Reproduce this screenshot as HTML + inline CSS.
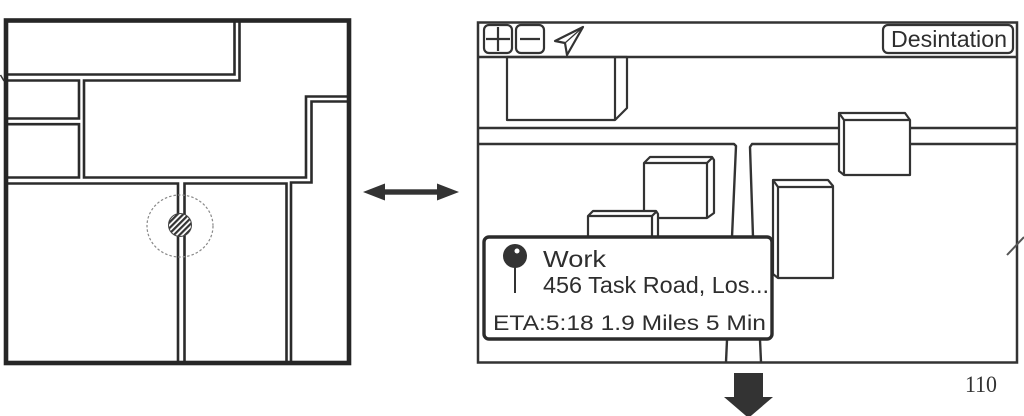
<!DOCTYPE html>
<html><head><meta charset="utf-8"><style>
html,body{margin:0;padding:0;background:#fff;}
svg{display:block;}
text{font-family:"Liberation Sans",Arial,sans-serif;fill:#2e2e2e;}
</style></head><body>
<svg width="1024" height="416" viewBox="0 0 1024 416" xmlns="http://www.w3.org/2000/svg">
<defs>
<pattern id="hatch" width="4" height="4" patternUnits="userSpaceOnUse" patternTransform="rotate(45)">
<rect width="4" height="4" fill="#fff"/><rect width="2.2" height="4" fill="#333"/>
</pattern>
</defs>
<rect width="1024" height="416" fill="#fff"/>

<!-- LEFT MAP -->
<g fill="none" stroke="#2b2b2b" stroke-width="2.6" stroke-linejoin="miter">
  <!-- block A -->
  <polyline points="234.5,20 234.5,74.5 6,74.5"/>
  <!-- C1 -->
  <polyline points="6,80.5 79,80.5 79,118.5 6,118.5"/>
  <!-- C2 -->
  <polyline points="6,124.2 79,124.2 79,177.5 6,177.5"/>
  <!-- B + D -->
  <polyline points="239.5,20 239.5,80.5 84,80.5 84,177.5 306,177.5 306,96.5 349,96.5"/>
  <!-- E -->
  <polyline points="6,183.5 178,183.5 178,363"/>
  <!-- F -->
  <polyline points="184.5,363 184.5,183.5 286.5,183.5 286.5,363"/>
  <!-- G -->
  <polyline points="291,363 291,182.5 311.5,182.5 311.5,101.5 349,101.5"/>
</g>
<rect x="6" y="20.5" width="343" height="342.5" fill="none" stroke="#262626" stroke-width="4.6"/>
<line x1="0.5" y1="75" x2="4" y2="81" stroke="#333" stroke-width="1.5"/>
<!-- location marker -->
<ellipse cx="180" cy="226" rx="33" ry="31" fill="none" stroke="#888" stroke-width="1.2" stroke-dasharray="2.5,2"/>
<circle cx="180" cy="225" r="11.5" fill="url(#hatch)" stroke="#444" stroke-width="1"/>

<!-- MIDDLE DOUBLE ARROW -->
<g fill="#333">
  <rect x="382" y="189.3" width="57" height="5.4"/>
  <polygon points="363,192 385,183.5 385,200.5"/>
  <polygon points="459,192 437,183.5 437,200.5"/>
</g>

<!-- RIGHT PANEL -->
<g fill="none" stroke="#333" stroke-width="2.4" stroke-linejoin="round">
  <!-- road lines -->
  <line x1="478" y1="128" x2="1017" y2="128"/>
  <polyline points="478,144 734,144 736,146 732,237"/>
  <polyline points="753,237 750,147 752,144 1017,144"/>
  <line x1="727" y1="340" x2="726" y2="362"/>
  <line x1="760" y1="340" x2="761" y2="362"/>
</g>

<!-- buildings -->
<g fill="#fff" stroke="#333" stroke-width="2.2" stroke-linejoin="round">
  <!-- building 1 top-left -->
  <polygon points="507,57 627,57 627,108 615,120 507,120"/>
  <polyline points="615,57 615,120" fill="none"/>
  <!-- building right-mid -->
  <polygon points="839,113 905,113 910,120 910,175 844,175 839,171"/>
  <polyline points="839,113 844,120 910,120" fill="none"/>
  <line x1="844" y1="120" x2="844" y2="175"/>
  <!-- building 2 center -->
  <polygon points="644,163 650,157 712,157 714,160 714,213 707,218 644,218"/>
  <polyline points="644,163 707,163 707,218" fill="none"/>
  <line x1="707" y1="163" x2="713" y2="157"/>
  <!-- building 3 small -->
  <polygon points="588,237 588,216 593,211 656,211 658,214 658,237"/>
  <polyline points="588,216 652,216 652,237" fill="none"/>
  <line x1="652" y1="216" x2="657" y2="211"/>
  <!-- building 4 -->
  <polygon points="773,180 828,180 833,186 833,278 778,278 773,274"/>
  <polyline points="773,180 778,187 833,187" fill="none"/>
  <line x1="778" y1="187" x2="778" y2="278"/>
</g>

<!-- frame & toolbar -->
<rect x="478" y="22.5" width="539" height="340" fill="none" stroke="#333" stroke-width="2.5"/>
<line x1="478" y1="57" x2="1017" y2="57" stroke="#333" stroke-width="2.4"/>
<g fill="none" stroke="#333" stroke-width="2.2">
  <rect x="484" y="25" width="28" height="28" rx="5"/>
  <line x1="486" y1="39" x2="510" y2="39"/>
  <line x1="498" y1="27" x2="498" y2="51"/>
  <rect x="516" y="25" width="28" height="28" rx="5"/>
  <line x1="520" y1="39" x2="540" y2="39"/>
  <polygon points="583,27 555,41 565,43 567,55" stroke-linejoin="round"/>
  <line x1="583" y1="27" x2="565" y2="43" stroke-width="1.2"/>
  <rect x="883" y="25" width="130" height="28" rx="5"/>
</g>
<text x="891" y="47" font-size="23" textLength="116" lengthAdjust="spacingAndGlyphs">Desintation</text>

<!-- popup -->
<rect x="484" y="237" width="288" height="102" rx="5" fill="#fff" stroke="#2b2b2b" stroke-width="3.4"/>
<circle cx="515" cy="256" r="12" fill="#333"/>
<circle cx="517" cy="251" r="2.5" fill="#fff"/>
<line x1="515" y1="267" x2="515" y2="293" stroke="#333" stroke-width="2"/>
<text x="543" y="267" font-size="23" textLength="63" lengthAdjust="spacingAndGlyphs">Work</text>
<text x="543" y="293" font-size="23" textLength="226" lengthAdjust="spacingAndGlyphs">456 Task Road, Los...</text>
<text x="493" y="330" font-size="21" textLength="273" lengthAdjust="spacingAndGlyphs">ETA:5:18  1.9 Miles  5 Min</text>

<!-- right edge tick -->
<line x1="1007" y1="255" x2="1024" y2="237" stroke="#555" stroke-width="2"/>

<!-- down arrow -->
<g fill="#333">
  <rect x="734" y="373" width="29" height="25"/>
  <polygon points="724,397 773,397 748.5,418"/>
</g>

<text x="965" y="392" font-size="23" textLength="32" lengthAdjust="spacingAndGlyphs" style="font-family:'Liberation Serif',serif;fill:#333">110</text>
</svg>
</body></html>
